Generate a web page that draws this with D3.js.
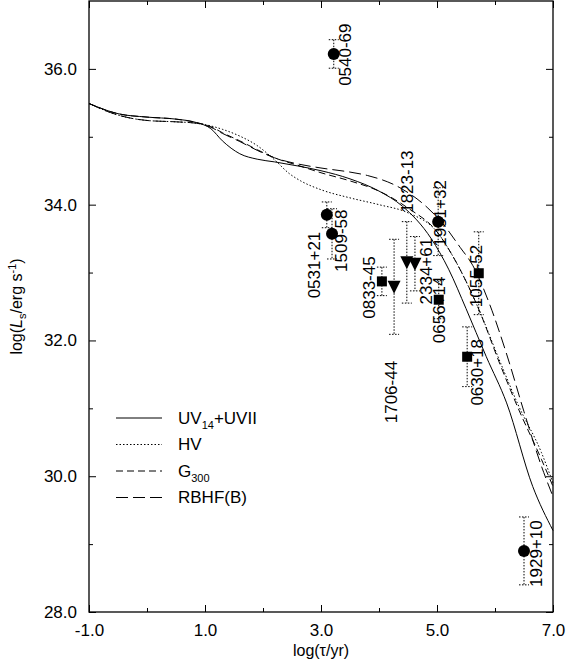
<!DOCTYPE html>
<html>
<head>
<meta charset="utf-8">
<script src="https://cdn.jsdelivr.net/npm/d3@7"></script>
<style>
  body { margin: 0; background: #fff; }
  svg { display: block; font-family: "Liberation Sans", Arial, sans-serif; }
</style>
</head>
<body>
<svg width="566" height="664"></svg>
<script>
// cooling curves, [log tau, log Ls]
const uv14 = [[-1.0, 35.49], [-0.5, 35.34], [0.0, 35.29], [0.5, 35.26], [0.85, 35.21], [1.1, 35.12],
  [1.3, 34.94], [1.6, 34.75], [1.9, 34.67], [2.2, 34.63], [2.6, 34.57], [3.0, 34.5], [3.5, 34.38],
  [4.0, 34.2], [4.4, 33.98], [4.9, 33.5], [5.2, 33.05], [5.5, 32.47], [5.85, 31.76], [6.2, 31.08],
  [6.65, 29.85], [7.0, 29.2]];
const hv = [[-1.0, 35.49], [-0.5, 35.32], [0.0, 35.24], [0.5, 35.22], [0.85, 35.2], [1.1, 35.16],
  [1.3, 35.11], [1.6, 35.01], [1.9, 34.87], [2.2, 34.66], [2.45, 34.46], [2.65, 34.35], [3.0, 34.22],
  [3.5, 34.1], [4.0, 34.0], [4.5, 33.88], [5.0, 33.6], [5.3, 33.2], [5.7, 32.5], [6.1, 31.66],
  [6.4, 31.05], [6.8, 30.35], [7.0, 29.9]];
const g300 = [[-1.0, 35.49], [-0.5, 35.34], [0.0, 35.29], [0.5, 35.26], [0.85, 35.21], [1.1, 35.15],
  [1.3, 35.06], [1.6, 34.94], [1.9, 34.81], [2.2, 34.69], [2.6, 34.58], [3.0, 34.47], [3.5, 34.35],
  [4.0, 34.2], [4.5, 33.95], [5.0, 33.6], [5.3, 33.2], [5.7, 32.5], [6.1, 31.62], [6.4, 31.0],
  [6.8, 30.25], [7.0, 29.85]];
const rbhf = [[-1.0, 35.49], [-0.5, 35.32], [0.0, 35.24], [0.5, 35.22], [0.85, 35.2], [1.1, 35.14],
  [1.3, 35.05], [1.6, 34.93], [1.9, 34.8], [2.2, 34.69], [2.6, 34.6], [3.0, 34.54], [3.5, 34.48],
  [3.8, 34.43], [4.36, 34.25], [4.83, 33.96], [5.1, 33.72], [5.4, 33.37], [5.62, 33.1], [5.9, 32.55],
  [6.2, 31.8], [6.5, 30.95], [6.8, 30.15], [7.0, 29.7]];

// pulsars
const names = ['0540-69', '0531+21', '1509-58', '0833-45', '1706-44', '1823-13', '2334+61',
  '1951+32', '0656+14', '1055-52', '0630+18', '1929+10'];
const logAge = [3.22, 3.10, 3.19, 4.05, 4.26, 4.48, 4.62, 5.02, 5.03, 5.72, 5.52, 6.50];
const logLum = [36.22, 33.85, 33.57, 32.87, 32.79, 33.15, 33.13, 33.75, 32.60, 32.99, 31.76, 28.90];
const lumErr = [0.21, 0.19, 0.37, 0.21, 0.70, 0.60, 0.40, 0.50, 0.28, 0.61, 0.44, 0.50];
const kind = ['circle', 'circle', 'circle', 'square', 'triangle', 'triangle', 'triangle',
  'circle', 'square', 'square', 'square', 'circle'];
// where each rotated name starts (data units)
const labelAge = [3.41, 2.88, 3.35, 3.83, 4.21, 4.49, 4.81, 5.05, 5.03, 5.68, 5.69, 6.71];
const labelLum = [35.75, 32.62, 33.01, 32.32, 30.78, 33.88, 32.53, 33.38, 31.96, 32.49, 31.04, 28.37];

const svg = d3.select('svg');
const margin = { top: 1, right: 13, bottom: 52, left: 89 };
const width = +svg.attr('width');
const height = +svg.attr('height');

const x = d3.scaleLinear().domain([-1, 7]).range([margin.left, width - margin.right]);
const y = d3.scaleLinear().domain([28, 37]).range([height - margin.bottom, margin.top]);

const fmt = d => d.toFixed(1);
const xMajor = [-1, 1, 3, 5, 7];
const xMinor = [0, 2, 4, 6];
const yMajor = [28, 30, 32, 34, 36];
const yMinor = [29, 31, 33, 35];

const styleAxis = (g) => {
  g.select('.domain').remove();
  g.selectAll('line').attr('stroke', '#000').attr('stroke-width', 1);
  g.selectAll('text').attr('font-size', 17).attr('fill', '#000');
};

const x0 = height - margin.bottom;
svg.append('g').attr('transform', `translate(0,${x0})`)
  .call(d3.axisBottom(x).tickValues(xMajor).tickSize(-7).tickPadding(12).tickFormat(fmt)).call(styleAxis);
svg.append('g').attr('transform', `translate(0,${x0})`)
  .call(d3.axisBottom(x).tickValues(xMinor).tickSize(-4).tickFormat('')).call(styleAxis);
svg.append('g').attr('transform', `translate(0,${margin.top})`)
  .call(d3.axisTop(x).tickValues(xMajor).tickSize(-7).tickFormat('')).call(styleAxis);
svg.append('g').attr('transform', `translate(0,${margin.top})`)
  .call(d3.axisTop(x).tickValues(xMinor).tickSize(-4).tickFormat('')).call(styleAxis);

svg.append('g').attr('transform', `translate(${margin.left},0)`)
  .call(d3.axisLeft(y).tickValues(yMajor).tickSize(-7).tickPadding(12).tickFormat(fmt)).call(styleAxis);
svg.append('g').attr('transform', `translate(${margin.left},0)`)
  .call(d3.axisLeft(y).tickValues(yMinor).tickSize(-4).tickFormat('')).call(styleAxis);
svg.append('g').attr('transform', `translate(${width - margin.right},0)`)
  .call(d3.axisRight(y).tickValues(yMajor).tickSize(-7).tickFormat('')).call(styleAxis);
svg.append('g').attr('transform', `translate(${width - margin.right},0)`)
  .call(d3.axisRight(y).tickValues(yMinor).tickSize(-4).tickFormat('')).call(styleAxis);

// frame
svg.append('rect')
  .attr('x', margin.left).attr('y', margin.top)
  .attr('width', width - margin.left - margin.right)
  .attr('height', height - margin.top - margin.bottom)
  .attr('fill', 'none').attr('stroke', '#000').attr('stroke-width', 1.3);

// curves
const line = d3.line().x(d => x(d[0])).y(d => y(d[1])).curve(d3.curveMonotoneX);
const curves = [
  { data: uv14, dash: null },
  { data: hv, dash: '1.5,2' },
  { data: g300, dash: '7,4' },
  { data: rbhf, dash: '12,5' }
];
svg.append('g').selectAll('path')
  .data(curves)
  .enter().append('path')
  .attr('d', d => line(d.data))
  .attr('fill', 'none')
  .attr('stroke', '#000')
  .attr('stroke-width', 1)
  .attr('stroke-dasharray', d => d.dash);

// error bars
const bars = svg.append('g')
  .attr('stroke', '#000')
  .attr('stroke-width', 1)
  .attr('stroke-dasharray', '1.5,1.5');
names.forEach((n, i) => {
  const cx = x(logAge[i]);
  const top = y(logLum[i] + lumErr[i]);
  const bot = y(logLum[i] - lumErr[i]);
  bars.append('line').attr('x1', cx).attr('x2', cx).attr('y1', top).attr('y2', bot);
  bars.append('line').attr('x1', cx - 5).attr('x2', cx + 5).attr('y1', top).attr('y2', top);
  bars.append('line').attr('x1', cx - 5).attr('x2', cx + 5).attr('y1', bot).attr('y2', bot);
});

// markers
const marks = svg.append('g').attr('fill', '#000');
names.forEach((n, i) => {
  const cx = x(logAge[i]);
  const cy = y(logLum[i]);
  if (kind[i] === 'circle') {
    marks.append('circle').attr('cx', cx).attr('cy', cy).attr('r', 6);
  } else if (kind[i] === 'square') {
    marks.append('rect').attr('x', cx - 5).attr('y', cy - 5).attr('width', 10).attr('height', 10);
  } else {
    marks.append('path').attr('d', `M${cx - 6.5},${cy - 6}L${cx + 6.5},${cy - 6}L${cx},${cy + 7}Z`);
  }
});

// names
svg.append('g').selectAll('text')
  .data(names)
  .enter().append('text')
  .attr('transform', (d, i) => `translate(${x(labelAge[i])},${y(labelLum[i])}) rotate(-90)`)
  .attr('dy', '0.35em')
  .attr('font-size', 17)
  .text(d => d);

// legend
const legendNames = [['UV', '14', '+UVII'], ['HV', '', ''], ['G', '300', ''], ['RBHF(B)', '', '']];
const legend = svg.append('g');
curves.forEach((c, i) => {
  const ly = 418 + i * 26.5;
  legend.append('line')
    .attr('x1', 116).attr('x2', 162).attr('y1', ly).attr('y2', ly)
    .attr('stroke', '#000').attr('stroke-width', 1)
    .attr('stroke-dasharray', c.dash);
  const t = legend.append('text').attr('x', 178).attr('y', ly).attr('dy', '0.35em').attr('font-size', 17);
  t.append('tspan').text(legendNames[i][0]);
  if (legendNames[i][1]) {
    t.append('tspan').attr('dy', 5).attr('font-size', 11).text(legendNames[i][1]);
    t.append('tspan').attr('dy', -5).text(legendNames[i][2]);
  }
});

// axis titles
svg.append('text')
  .attr('x', (x(-1) + x(7)) / 2).attr('y', 656)
  .attr('text-anchor', 'middle').attr('font-size', 16)
  .text('log(τ/yr)');

const yt = svg.append('text')
  .attr('transform', `translate(22,${y(32.5)}) rotate(-90)`)
  .attr('text-anchor', 'middle').attr('font-size', 16);
yt.append('tspan').text('log(');
yt.append('tspan').attr('font-style', 'italic').text('L');
yt.append('tspan').attr('dy', 4).attr('font-size', 11).text('s');
yt.append('tspan').attr('dy', -4).text('/erg s');
yt.append('tspan').attr('dy', -6).attr('font-size', 11).text('-1');
yt.append('tspan').attr('dy', 6).text(')');
</script>
</body>
</html>
